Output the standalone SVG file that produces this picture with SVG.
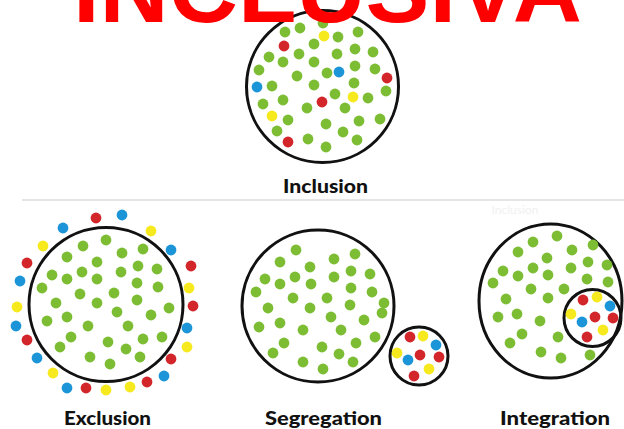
<svg xmlns="http://www.w3.org/2000/svg" width="624" height="429" viewBox="0 0 624 429">
<style>
.ring{fill:none;stroke:#111;stroke-width:3}
.g{fill:#7cbd33}
.r{fill:#d3262b}
.b{fill:#1b95d8}
.y{fill:#f6e91e}
.g,.r,.b,.y{r:5.4px}
.lbl{font-family:Lato,"Open Sans","Liberation Sans",sans-serif;font-weight:900;font-size:19px;fill:#111;text-anchor:middle}
.title{font-family:"Liberation Sans",Arial,sans-serif;font-weight:700;font-size:94px;fill:#ff0000}
</style>
<rect width="624" height="429" fill="#fff"/>
<line x1="22" y1="200" x2="624" y2="200" stroke="#ddd" stroke-width="1.5"/>
<text x="515" y="214" font-family="Lato,sans-serif" font-size="12" fill="#f1f1f1" text-anchor="middle">Inclusion</text>

<g id="inclusion">
<circle class="ring" cx="322.5" cy="86.5" r="76"/>
<g>
<circle class="g" cx="285" cy="32" r="5"/><circle class="g" cx="300" cy="28" r="5"/><circle class="g" cx="323" cy="23" r="5"/>
<circle class="y" cx="324" cy="36" r="5"/><circle class="g" cx="338" cy="37" r="5"/><circle class="g" cx="358" cy="32" r="5"/>
<circle class="r" cx="284" cy="46" r="5"/><circle class="g" cx="314" cy="44" r="5"/><circle class="g" cx="269" cy="57" r="5"/>
<circle class="g" cx="299" cy="54" r="5"/><circle class="g" cx="337" cy="54" r="5"/><circle class="g" cx="355" cy="49" r="5"/>
<circle class="g" cx="373" cy="52" r="5"/><circle class="g" cx="283" cy="62" r="5"/><circle class="g" cx="314" cy="62" r="5"/>
<circle class="g" cx="259" cy="70" r="5"/><circle class="g" cx="297" cy="76" r="5"/><circle class="g" cx="327" cy="73" r="5"/>
<circle class="b" cx="339" cy="72" r="5"/><circle class="g" cx="355" cy="66" r="5"/><circle class="g" cx="375" cy="69" r="5"/>
<circle class="r" cx="387" cy="78" r="5"/><circle class="b" cx="257" cy="87" r="5"/><circle class="g" cx="272" cy="86" r="5"/>
<circle class="g" cx="314" cy="85" r="5"/><circle class="g" cx="354" cy="83" r="5"/><circle class="g" cx="386" cy="91" r="5"/>
<circle class="g" cx="263" cy="104" r="5"/><circle class="g" cx="283" cy="100" r="5"/><circle class="r" cx="322" cy="102" r="5"/>
<circle class="g" cx="335" cy="94" r="5"/><circle class="y" cx="353" cy="97" r="5"/><circle class="g" cx="368" cy="98" r="5"/>
<circle class="g" cx="307" cy="108" r="5"/><circle class="g" cx="345" cy="108" r="5"/><circle class="y" cx="272" cy="116" r="5"/>
<circle class="g" cx="288" cy="120" r="5"/><circle class="g" cx="326" cy="124" r="5"/><circle class="g" cx="359" cy="121" r="5"/>
<circle class="g" cx="380" cy="119" r="5"/><circle class="g" cx="277" cy="131" r="5"/><circle class="g" cx="343" cy="132" r="5"/>
<circle class="r" cx="288" cy="142" r="5"/><circle class="g" cx="308" cy="139" r="5"/><circle class="g" cx="357" cy="140" r="5"/>
<circle class="g" cx="326" cy="147" r="5"/>
</g>
<text class="lbl" x="325.5" y="193" textLength="85" lengthAdjust="spacingAndGlyphs">Inclusion</text>
</g>

<g id="exclusion">
<circle class="ring" cx="106" cy="304.5" r="77"/>
<g>
<circle class="g" cx="106" cy="240" r="5"/><circle class="g" cx="83" cy="246" r="5"/><circle class="g" cx="122" cy="253" r="5"/>
<circle class="g" cx="143" cy="249" r="5"/><circle class="g" cx="67" cy="257" r="5"/><circle class="g" cx="97" cy="262" r="5"/>
<circle class="g" cx="138" cy="266" r="5"/><circle class="g" cx="157" cy="269" r="5"/><circle class="g" cx="52" cy="275" r="5"/>
<circle class="g" cx="82" cy="272" r="5"/><circle class="g" cx="121" cy="272" r="5"/><circle class="g" cx="67" cy="279" r="5"/>
<circle class="g" cx="97" cy="279" r="5"/><circle class="g" cx="137" cy="283" r="5"/><circle class="g" cx="158" cy="287" r="5"/>
<circle class="g" cx="42" cy="288" r="5"/><circle class="g" cx="80" cy="294" r="5"/><circle class="g" cx="114" cy="293" r="5"/>
<circle class="g" cx="56" cy="303" r="5"/><circle class="g" cx="97" cy="303" r="5"/><circle class="g" cx="137" cy="300" r="5"/>
<circle class="g" cx="169" cy="308" r="5"/><circle class="g" cx="117" cy="312" r="5"/><circle class="g" cx="47" cy="321" r="5"/>
<circle class="g" cx="67" cy="317" r="5"/><circle class="g" cx="88" cy="326" r="5"/><circle class="g" cx="128" cy="326" r="5"/>
<circle class="g" cx="151" cy="315" r="5"/><circle class="g" cx="71" cy="337" r="5"/><circle class="g" cx="108" cy="342" r="5"/>
<circle class="g" cx="143" cy="339" r="5"/><circle class="g" cx="162" cy="337" r="5"/><circle class="g" cx="60" cy="347" r="5"/>
<circle class="g" cx="126" cy="349" r="5"/><circle class="g" cx="90" cy="357" r="5"/><circle class="g" cx="110" cy="364" r="5"/>
<circle class="g" cx="140" cy="357" r="5"/>
</g>
<g>
<circle class="r" cx="96" cy="218" r="5"/><circle class="b" cx="122" cy="215" r="5"/><circle class="b" cx="63" cy="228" r="5"/>
<circle class="y" cx="151" cy="231" r="5"/><circle class="y" cx="43" cy="246" r="5"/><circle class="b" cx="171" cy="250" r="5"/>
<circle class="r" cx="27" cy="263" r="5"/><circle class="r" cx="191" cy="266" r="5"/><circle class="b" cx="20" cy="281" r="5"/>
<circle class="y" cx="189" cy="288" r="5"/><circle class="y" cx="17" cy="307" r="5"/><circle class="r" cx="193" cy="306" r="5"/>
<circle class="b" cx="16" cy="326" r="5"/><circle class="b" cx="187" cy="328" r="5"/><circle class="r" cx="27" cy="340" r="5"/>
<circle class="y" cx="187" cy="347" r="5"/><circle class="b" cx="37" cy="358" r="5"/><circle class="r" cx="171" cy="359" r="5"/>
<circle class="y" cx="53" cy="373" r="5"/><circle class="b" cx="164" cy="376" r="5"/><circle class="r" cx="147" cy="382" r="5"/>
<circle class="b" cx="67" cy="388" r="5"/><circle class="r" cx="86" cy="388" r="5"/><circle class="y" cx="106" cy="390" r="5"/>
<circle class="y" cx="130" cy="387" r="5"/>
</g>
<text class="lbl" x="107.5" y="425" textLength="87" lengthAdjust="spacingAndGlyphs">Exclusion</text>
</g>

<g id="segregation">
<circle class="ring" cx="318" cy="306" r="76"/>
<g>
<circle class="g" cx="296" cy="250" r="5"/><circle class="g" cx="280" cy="262" r="5"/><circle class="g" cx="310" cy="267" r="5"/>
<circle class="g" cx="334" cy="259" r="5"/><circle class="g" cx="355" cy="254" r="5"/><circle class="g" cx="265" cy="279" r="5"/>
<circle class="g" cx="295" cy="277" r="5"/><circle class="g" cx="280" cy="284" r="5"/><circle class="g" cx="311" cy="284" r="5"/>
<circle class="g" cx="334" cy="277" r="5"/><circle class="g" cx="351" cy="271" r="5"/><circle class="g" cx="370" cy="274" r="5"/>
<circle class="g" cx="256" cy="292" r="5"/><circle class="g" cx="293" cy="298" r="5"/><circle class="g" cx="327" cy="298" r="5"/>
<circle class="g" cx="351" cy="288" r="5"/><circle class="g" cx="372" cy="292" r="5"/><circle class="g" cx="268" cy="308" r="5"/>
<circle class="g" cx="310" cy="308" r="5"/><circle class="g" cx="350" cy="305" r="5"/><circle class="g" cx="384" cy="303" r="5"/>
<circle class="g" cx="382" cy="313" r="5"/><circle class="g" cx="331" cy="317" r="5"/><circle class="g" cx="280" cy="323" r="5"/>
<circle class="g" cx="259" cy="327" r="5"/><circle class="g" cx="364" cy="320" r="5"/><circle class="g" cx="303" cy="330" r="5"/>
<circle class="g" cx="341" cy="330" r="5"/><circle class="g" cx="284" cy="343" r="5"/><circle class="g" cx="375" cy="337" r="5"/>
<circle class="g" cx="356" cy="343" r="5"/><circle class="g" cx="322" cy="347" r="5"/><circle class="g" cx="273" cy="353" r="5"/>
<circle class="g" cx="339" cy="354" r="5"/><circle class="g" cx="303" cy="362" r="5"/><circle class="g" cx="353" cy="362" r="5"/>
<circle class="g" cx="323" cy="369" r="5"/>
</g>
<circle class="ring" cx="419" cy="356" r="29"/>
<g>
<circle class="r" cx="410" cy="337" r="5"/><circle class="y" cx="423" cy="336" r="5"/><circle class="b" cx="436" cy="345" r="5"/>
<circle class="y" cx="397" cy="353" r="5"/><circle class="r" cx="420" cy="355" r="5"/><circle class="b" cx="408" cy="360" r="5"/>
<circle class="r" cx="439" cy="357" r="5"/><circle class="y" cx="429" cy="369" r="5"/><circle class="r" cx="414" cy="376" r="5"/>
</g>
<text class="lbl" x="323.5" y="425" textLength="117" lengthAdjust="spacingAndGlyphs">Segregation</text>
</g>

<g id="integration">
<ellipse class="ring" cx="550.5" cy="301" rx="71.5" ry="77"/>
<g>
<circle class="g" cx="557" cy="236" r="5"/><circle class="g" cx="533" cy="242" r="5"/><circle class="g" cx="518" cy="252" r="5"/>
<circle class="g" cx="547" cy="258" r="5"/><circle class="g" cx="572" cy="250" r="5"/><circle class="g" cx="593" cy="245" r="5"/>
<circle class="g" cx="503" cy="271" r="5"/><circle class="g" cx="533" cy="268" r="5"/><circle class="g" cx="518" cy="276" r="5"/>
<circle class="g" cx="548" cy="275" r="5"/><circle class="g" cx="571" cy="268" r="5"/><circle class="g" cx="588" cy="262" r="5"/>
<circle class="g" cx="607" cy="265" r="5"/><circle class="g" cx="493" cy="283" r="5"/><circle class="g" cx="531" cy="289" r="5"/>
<circle class="g" cx="564" cy="289" r="5"/><circle class="g" cx="587" cy="279" r="5"/><circle class="g" cx="608" cy="282" r="5"/>
<circle class="g" cx="506" cy="299" r="5"/><circle class="g" cx="548" cy="298" r="5"/><circle class="g" cx="498" cy="317" r="5"/>
<circle class="g" cx="517" cy="314" r="5"/><circle class="g" cx="540" cy="321" r="5"/><circle class="g" cx="522" cy="334" r="5"/>
<circle class="g" cx="558" cy="337" r="5"/><circle class="g" cx="510" cy="343" r="5"/><circle class="g" cx="541" cy="352" r="5"/>
<circle class="g" cx="561" cy="358" r="5"/><circle class="g" cx="590" cy="355" r="5"/>
</g>
<circle class="ring" cx="592.5" cy="318" r="28.5"/>
<g>
<circle class="r" cx="583" cy="300" r="5"/><circle class="y" cx="597" cy="297" r="5"/><circle class="b" cx="610" cy="306" r="5"/>
<circle class="y" cx="571" cy="314" r="5"/><circle class="r" cx="595" cy="317" r="5"/><circle class="b" cx="582" cy="322" r="5"/>
<circle class="r" cx="613" cy="318" r="5"/><circle class="y" cx="603" cy="330" r="5"/><circle class="r" cx="587" cy="337" r="5"/>
</g>
<text class="lbl" x="555" y="425" textLength="110" lengthAdjust="spacingAndGlyphs">Integration</text>
</g>

<g id="title">
<text class="title" x="73" y="22" textLength="509" lengthAdjust="spacingAndGlyphs">INCLUSIVA</text>
</g>
<g id="connectors"/>
</svg>
